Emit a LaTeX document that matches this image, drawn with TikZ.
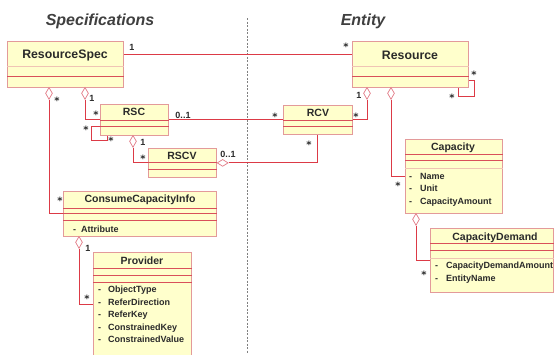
\documentclass[tikz,border=0pt]{standalone}
\usepackage{fontspec}
\setmainfont{Liberation Sans}
\newfontfamily\starfont{DejaVu Sans}
\usetikzlibrary{shapes.geometric,calc}
\definecolor{boxborder}{HTML}{E39A9A}
\definecolor{boxfill}{HTML}{FFFFCC}
\definecolor{divred}{HTML}{D9505A}
\definecolor{divlight}{HTML}{F0C4B4}
\definecolor{connred}{HTML}{DC3A46}
\definecolor{diacol}{HTML}{E27A86}
\definecolor{txt}{HTML}{2A2A2A}
\tikzset{
  cls/.style={draw=boxborder, fill=boxfill, line width=0.8pt, inner sep=0pt, anchor=north west},
  div/.style={draw=divred, line width=0.8pt},
  divl/.style={draw=divlight, line width=0.7pt},
  conn/.style={draw=connred, line width=0.9pt},
  bigttl/.style={font=\fontsize{12.3}{14}\selectfont\bfseries, text=txt, inner sep=0pt, text height=8.8pt, text depth=0pt},
  ttl/.style={font=\fontsize{10.5}{12}\selectfont\bfseries, text=txt, inner sep=0pt, text height=7.5pt, text depth=0pt},
  attr/.style={font=\fontsize{9}{10}\selectfont\bfseries, text=txt, inner sep=0pt, text height=6.5pt, text depth=0pt, anchor=west},
  mult/.style={font=\fontsize{9}{10}\selectfont\bfseries, text=txt, inner sep=0pt, text height=6.5pt, text depth=0pt},
  star/.style={font=\starfont\fontsize{10}{11}\selectfont\bfseries, text=txt, inner sep=0pt, text height=7pt, text depth=0pt, yshift=-2pt},
  sect/.style={font=\fontsize{16}{18}\selectfont\bfseries\itshape, text=txt!90, inner sep=0pt, text height=11.5pt, text depth=0pt},
  vdiamond/.style={diamond, draw=diacol, fill=white, line width=0.7pt, inner sep=0pt, minimum width=7pt, minimum height=12pt, anchor=north},
  hdiamond/.style={diamond, draw=diacol, fill=white, line width=0.7pt, inner sep=0pt, minimum width=11pt, minimum height=7pt, anchor=west},
  divider/.style={draw=gray, line width=0.8pt, dash pattern=on 2pt off 1.5pt}
}
\begin{document}
\begin{tikzpicture}[x=1pt,y=-1pt]
\useasboundingbox (0,0) rectangle (555,354);
\fill[white] (0,0) rectangle (555,354);

% section titles and divider
\node[sect] (tspec) at (100,19.5) {Specifications};
\node[sect] (tent) at (363,19.5) {Entity};
\coordinate (dtop) at (247,18);
\coordinate (dbot) at (247,354);
\draw[divider] (dtop) -- (dbot);

% class boxes
\node[cls, minimum width=116pt, minimum height=46pt] (rs) at (7,41) {};
\node[cls, minimum width=116pt, minimum height=46pt] (res) at (352,41) {};
\node[cls, minimum width=68pt, minimum height=31pt] (rsc) at (100,104) {};
\node[cls, minimum width=68pt, minimum height=29pt] (rscv) at (148,148) {};
\node[cls, minimum width=69pt, minimum height=29pt] (rcv) at (283,105) {};
\node[cls, minimum width=153pt, minimum height=45pt] (cci) at (63,191) {};
\node[cls, minimum width=98pt, minimum height=104pt] (prov) at (93,252) {};
\node[cls, minimum width=97pt, minimum height=74pt] (cap) at (405,139) {};
\node[cls, minimum width=123pt, minimum height=64pt] (cd) at (430,228) {};

% compartment lines
\draw[divl] (rs.west |- 0,66) -- (rs.east |- 0,66);
\draw[div] (rs.west |- 0,76) -- (rs.east |- 0,76);
\draw[divl] (res.west |- 0,66) -- (res.east |- 0,66);
\draw[div] (res.west |- 0,76) -- (res.east |- 0,76);
\draw[div] (rsc.west |- 0,120) -- (rsc.east |- 0,120);
\draw[div] (rsc.west |- 0,126) -- (rsc.east |- 0,126);
\draw[div] (rscv.west |- 0,162) -- (rscv.east |- 0,162);
\draw[div] (rscv.west |- 0,169) -- (rscv.east |- 0,169);
\draw[div] (rcv.west |- 0,120) -- (rcv.east |- 0,120);
\draw[div] (rcv.west |- 0,126) -- (rcv.east |- 0,126);
\draw[div] (cci.west |- 0,208) -- (cci.east |- 0,208);
\draw[div] (cci.west |- 0,213) -- (cci.east |- 0,213);
\draw[div] (cci.west |- 0,220) -- (cci.east |- 0,220);
\draw[div] (prov.west |- 0,268) -- (prov.east |- 0,268);
\draw[div] (prov.west |- 0,275) -- (prov.east |- 0,275);
\draw[div] (prov.west |- 0,282) -- (prov.east |- 0,282);
\draw[div] (cap.west |- 0,154) -- (cap.east |- 0,154);
\draw[div] (cap.west |- 0,160) -- (cap.east |- 0,160);
\draw[divl] (cap.west |- 0,168) -- (cap.east |- 0,168);
\draw[div] (cd.west |- 0,243) -- (cd.east |- 0,243);
\draw[div] (cd.west |- 0,250) -- (cd.east |- 0,250);
\draw[divl] (cd.west |- 0,258) -- (cd.east |- 0,258);

% titles
\node[bigttl] (rst) at (65,54) {ResourceSpec};
\node[bigttl] (rest) at (410,55) {Resource};
\node[ttl] (rsct) at (134,112) {RSC};
\node[ttl] (rscvt) at (182,156) {RSCV};
\node[ttl] (rcvt) at (318,113) {RCV};
\node[ttl] (ccit) at (140,199) {ConsumeCapacityInfo};
\node[ttl] (provt) at (142,261) {Provider};
\node[ttl] (capt) at (453,147) {Capacity};
\node[ttl] (cdt) at (495,237) {CapacityDemand};

% attributes
\node[attr] (a1) at (73,229) {\makebox[8pt][l]{-}Attribute};
\node[attr] (p1) at (98,289) {\makebox[10pt][l]{-}ObjectType};
\node[attr] (p2) at (98,302) {\makebox[10pt][l]{-}ReferDirection};
\node[attr] (p3) at (98,314) {\makebox[10pt][l]{-}ReferKey};
\node[attr] (p4) at (98,327) {\makebox[10pt][l]{-}ConstrainedKey};
\node[attr] (p5) at (98,339) {\makebox[10pt][l]{-}ConstrainedValue};
\node[attr] (c1) at (409,176) {\makebox[11pt][l]{-}Name};
\node[attr] (c2) at (409,188) {\makebox[11pt][l]{-}Unit};
\node[attr] (c3) at (409,201) {\makebox[11pt][l]{-}CapacityAmount};
\node[attr] (e1) at (435,265) {\makebox[11pt][l]{-}CapacityDemandAmount};
\node[attr] (e2) at (435,278) {\makebox[11pt][l]{-}EntityName};

% connectors
\draw[conn] (rs.east |- rst) -- (res.west |- rst);
\draw[conn] (rsc.east) -- (rcv.west);
\draw[conn] ($(rsc.south west)+(0,-9)$) -- ++(-9,0) -- ++(0,14) -- ++(16,0) -- ++(0,-5);
\draw[conn] ($(res.south east)+(0,-7)$) -- ++(6,0) -- ++(0,16) -- ++(-16,0) -- ++(0,-9);

\node[vdiamond] (d1) at (49,87) {};
\draw[conn] (d1.south) |- (cci.west);
\node[vdiamond] (d2) at (85,87) {};
\draw[conn] (d2.south) |- (rsc.west);
\node[vdiamond] (d5) at (133,135) {};
\draw[conn] (d5.south) |- (rscv.west);
\node[hdiamond] (d6) at (rscv.east) {};
\draw[conn] (d6.east) -| (rcv.south);
\node[vdiamond] (d8) at (367,87) {};
\draw[conn] (d8.south) |- (rcv.east);
\node[vdiamond] (d10) at (391,87) {};
\draw[conn] (d10.south) |- (cap.west);
\node[vdiamond] (d11) at (416,213) {};
\draw[conn] (d11.south) |- (cd.west);
\node[vdiamond] (d12) at (79,236) {};
\draw[conn] (d12.south) |- (prov.west);

% multiplicities
\node[mult] (m1) at (132,47) {1};
\node[star] (m2) at (346,45) {*};
\node[star] (m3) at (57,99) {*};
\node[star] (m4) at (60,199) {*};
\node[mult] (m5) at (92,98) {1};
\node[star] (m6) at (96,113) {*};
\node[star] (m7) at (86,128) {*};
\node[star] (m8) at (111,139) {*};
\node[mult] (m9) at (143,142) {1};
\node[star] (m10) at (143,157) {*};
\node[mult] (m11) at (228,154) {0..1};
\node[star] (m12) at (309,143) {*};
\node[mult] (m13) at (183,115) {0..1};
\node[star] (m14) at (275,115) {*};
\node[mult] (m15) at (359,95) {1};
\node[star] (m16) at (356,115) {*};
\node[star] (m17) at (474,73) {*};
\node[star] (m18) at (452,96) {*};
\node[star] (m19) at (398,184) {*};
\node[star] (m20) at (424,273) {*};
\node[mult] (m21) at (88,248) {1};
\node[star] (m22) at (87,297) {*};
\end{tikzpicture}
\end{document}
